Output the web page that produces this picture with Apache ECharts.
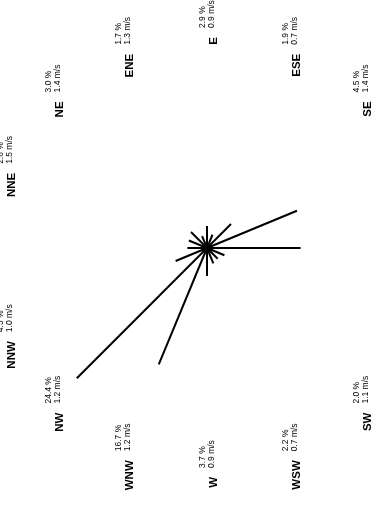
<!DOCTYPE html>
<html>
<head>
<meta charset="utf-8">
<script src="https://cdn.jsdelivr.net/npm/echarts@6/dist/echarts.min.js"></script>
<style>
  html, body { margin: 0; padding: 0; background: #fff; }
  #chart { width: 382px; height: 506px; }
</style>
</head>
<body>
<div id="chart"></div>
<script>
// Wind directions (16 sectors), frequency of occurrence (%) and mean wind speed (m/s)
const directions = ['N', 'NNE', 'NE', 'ENE', 'E', 'ESE', 'SE', 'SSE', 'S', 'SSW', 'SW', 'WSW', 'W', 'WNW', 'NW', 'NNW'];
const frequency = [2.6, 2.6, 3.0, 1.7, 2.9, 1.9, 4.5, 12.9, 12.4, 2.5, 2.0, 2.2, 3.7, 16.7, 24.4, 4.5];
const meanSpeed = [1.2, 1.5, 1.4, 1.3, 0.9, 0.7, 1.4, 1.5, 1.4, 1.0, 1.1, 0.7, 0.9, 1.2, 1.2, 1.0];

const FONT = '"Liberation Sans", Arial, Helvetica, sans-serif';
const NAME_FONT = 'bold 11.5px ' + FONT;
const STAT_FONT = '8.5px ' + FONT;
const RADIUS_MAX = 26.5;   // % at the polar outer radius
const RING_X = 218;        // px, horizontal half-axis of the label ring
const RING_Y = 220;        // px, vertical half-axis of the label ring
const NAME_GAP = 9;        // px between a direction name and its stats

const seriesData = frequency.map((f, i) => [f, directions[i]]);

// One straight ray per direction, from the centre out to its frequency
function renderRay(params, api) {
  const c = api.coord([0, api.value(1)]);
  const p = api.coord([api.value(0), api.value(1)]);
  return {
    type: 'line',
    shape: { x1: c[0], y1: c[1], x2: p[0], y2: p[1] },
    style: { stroke: '#000', lineWidth: 2, lineCap: 'butt' }
  };
}

// Direction name in bold, followed by frequency and speed stacked as a superscript;
// the whole label is turned a quarter turn to read upwards
function renderLabel(params, api) {
  const i = params.dataIndex;
  const c = api.coord([0, api.value(1)]);
  const p = api.coord([RADIUS_MAX, api.value(1)]);
  const len = Math.hypot(p[0] - c[0], p[1] - c[1]);
  const ux = (p[0] - c[0]) / len;
  const uy = (p[1] - c[1]) / len;
  const stat = { fill: '#000', align: 'left', verticalAlign: 'middle', font: STAT_FONT };
  return {
    type: 'group',
    x: c[0] + ux * RING_X,
    y: c[1] + uy * RING_Y,
    rotation: Math.PI / 2,
    children: [
      {
        type: 'text', x: -NAME_GAP, y: 6.5,
        style: { text: directions[i], font: NAME_FONT, fill: '#000', align: 'right', verticalAlign: 'middle' }
      },
      { type: 'text', x: 0, y: -4.5, style: Object.assign({ text: frequency[i].toFixed(1) + ' %' }, stat) },
      { type: 'text', x: 0, y: 4.5, style: Object.assign({ text: meanSpeed[i].toFixed(1) + ' m/s' }, stat) }
    ]
  };
}

const chart = echarts.init(document.getElementById('chart'));
chart.setOption({
  animation: false,
  backgroundColor: '#fff',
  polar: { center: [207, 248], radius: 200 },
  angleAxis: {
    type: 'category',
    data: directions,
    boundaryGap: false,
    startAngle: 180,
    clockwise: true,
    axisLine: { show: false },
    axisTick: { show: false },
    axisLabel: { show: false },
    splitLine: { show: false }
  },
  radiusAxis: {
    min: 0,
    max: RADIUS_MAX,
    axisLine: { show: false },
    axisTick: { show: false },
    axisLabel: { show: false },
    splitLine: { show: false }
  },
  series: [
    {
      type: 'custom',
      coordinateSystem: 'polar',
      renderItem: renderRay,
      encode: { radius: 0, angle: 1 },
      data: seriesData,
      silent: true
    },
    {
      type: 'custom',
      coordinateSystem: 'polar',
      renderItem: renderLabel,
      encode: { radius: 0, angle: 1 },
      data: seriesData,
      silent: true
    }
  ]
});
</script>
</body>
</html>
